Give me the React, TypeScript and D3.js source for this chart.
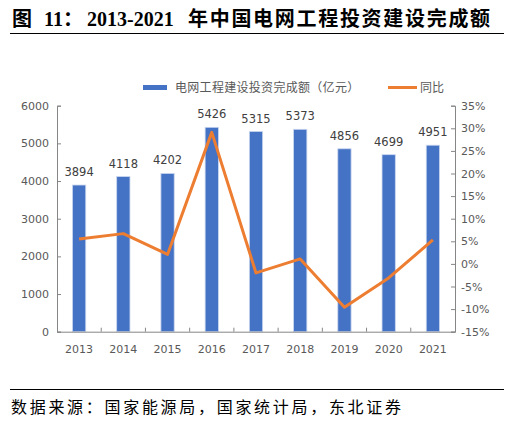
import React, { useEffect, useRef } from 'react';
import * as d3 from 'd3';

const years = ['2013', '2014', '2015', '2016', '2017', '2018', '2019', '2020', '2021'];
const investment = [3894, 4118, 4202, 5426, 5315, 5373, 4856, 4699, 4951];
const yoy = [5.5, 6.7, 2.1, 29.1, -2.0, 1.1, -9.6, -3.1, 5.3];
const leftTicks = [0, 1000, 2000, 3000, 4000, 5000, 6000];
const rightTicks = [-15, -10, -5, 0, 5, 10, 15, 20, 25, 30, 35];

const CJK = '"Liberation Serif", "Noto Sans CJK SC", serif';
const SANS = '"DejaVu Sans", "Noto Sans CJK SC", sans-serif';

const App: React.FC = () => {
  const svgRef = useRef<SVGSVGElement>(null);

  useEffect(() => {
    if (!svgRef.current) return;
    const svg = d3.select(svgRef.current);
    svg.selectAll('*').remove();

    const left = 57;
    const right = 455;
    const top = 105.7;
    const bottom = 331.7;
    const axisColor = '#868686';
    const labelColor = '#595959';

    const x = d3.scaleBand<string>().domain(years).range([left, right]).paddingInner(0.7).paddingOuter(0.35);
    const xCat = d3.scaleBand<string>().domain(years).range([left, right]);
    const yL = d3.scaleLinear().domain([0, 6000]).range([bottom, top]);
    const yR = d3.scaleLinear().domain([-15, 35]).range([bottom, top]);

    // title
    const title = svg
      .append('text')
      .attr('y', 26)
      .attr('font-family', CJK)
      .attr('font-weight', 'bold')
      .attr('font-size', 20)
      .attr('fill', '#000');
    title.append('tspan').attr('x', 12).text('图');
    title.append('tspan').attr('x', 44).text('11：');
    title.append('tspan').attr('x', 87).text('2013-2021');
    title.append('tspan').attr('x', 188).attr('letter-spacing', 1.7).text('年中国电网工程投资建设完成额');
    svg.append('line').attr('x1', 10).attr('x2', 504).attr('y1', 33.5).attr('y2', 33.5).attr('stroke', '#000').attr('stroke-width', 1);

    // legend
    svg.append('rect').attr('x', 143).attr('y', 85).attr('width', 24).attr('height', 5).attr('fill', '#4472C4');
    svg
      .append('text')
      .attr('x', 175)
      .attr('y', 91.5)
      .attr('font-family', SANS)
      .attr('font-size', 12)
      .attr('letter-spacing', 0.3)
      .attr('fill', labelColor)
      .text('电网工程建设投资完成额（亿元）');
    svg.append('line').attr('x1', 388).attr('x2', 417).attr('y1', 87.5).attr('y2', 87.5).attr('stroke', '#ED7D31').attr('stroke-width', 3);
    svg
      .append('text')
      .attr('x', 420)
      .attr('y', 91.5)
      .attr('font-family', SANS)
      .attr('font-size', 12)
      .attr('fill', labelColor)
      .text('同比');

    // bars
    svg
      .append('g')
      .selectAll('rect')
      .data(investment)
      .enter()
      .append('rect')
      .attr('x', (_d, i) => x(years[i])!)
      .attr('width', x.bandwidth())
      .attr('y', (d) => yL(d))
      .attr('height', (d) => bottom - yL(d))
      .attr('fill', '#4472C4')
      .attr('stroke', '#c9d6ef')
      .attr('stroke-width', 0.8);

    // bar labels
    svg
      .append('g')
      .selectAll('text')
      .data(investment)
      .enter()
      .append('text')
      .attr('x', (_d, i) => x(years[i])! + x.bandwidth() / 2)
      .attr('y', (d) => yL(d) - 9)
      .attr('text-anchor', 'middle')
      .attr('font-family', SANS)
      .attr('font-size', 11.5)
      .attr('fill', '#404040')
      .text((d) => d);

    // axes
    const gL = svg
      .append('g')
      .attr('transform', `translate(${left},0)`)
      .call(d3.axisRight(yL).tickValues(leftTicks).tickSize(4).tickFormat(() => ''));
    gL.selectAll('line, path').attr('stroke', axisColor);
    svg
      .append('g')
      .selectAll('text')
      .data(leftTicks)
      .enter()
      .append('text')
      .attr('x', left - 8)
      .attr('y', (d) => yL(d) + 4)
      .attr('text-anchor', 'end')
      .attr('font-family', SANS)
      .attr('font-size', 11)
      .attr('fill', labelColor)
      .text((d) => d);

    const gR = svg
      .append('g')
      .attr('transform', `translate(${right},0)`)
      .call(d3.axisLeft(yR).tickValues(rightTicks).tickSize(4).tickFormat(() => ''));
    gR.selectAll('line, path').attr('stroke', axisColor);
    svg
      .append('g')
      .selectAll('text')
      .data(rightTicks)
      .enter()
      .append('text')
      .attr('x', right + 6)
      .attr('y', (d) => yR(d) + 4)
      .attr('font-family', SANS)
      .attr('font-size', 11)
      .attr('fill', labelColor)
      .text((d) => `${d}%`);

    const gX = svg
      .append('g')
      .attr('transform', `translate(0,${bottom})`)
      .call(d3.axisTop(xCat).tickSize(0).tickFormat(() => ''));
    gX.select('path').attr('stroke', axisColor);
    gX.selectAll('.tick').remove();
    svg
      .append('g')
      .selectAll('line')
      .data(years.slice(1))
      .enter()
      .append('line')
      .attr('x1', (d) => xCat(d)!)
      .attr('x2', (d) => xCat(d)!)
      .attr('y1', bottom)
      .attr('y2', bottom - 4)
      .attr('stroke', axisColor);
    svg
      .append('g')
      .selectAll('text')
      .data(years)
      .enter()
      .append('text')
      .attr('x', (d) => xCat(d)! + xCat.bandwidth() / 2)
      .attr('y', bottom + 21)
      .attr('text-anchor', 'middle')
      .attr('font-family', SANS)
      .attr('font-size', 11)
      .attr('fill', labelColor)
      .text((d) => d);

    // line
    const line = d3
      .line<number>()
      .x((_d, i) => xCat(years[i])! + xCat.bandwidth() / 2)
      .y((d) => yR(d));
    svg
      .append('path')
      .datum(yoy)
      .attr('d', line)
      .attr('fill', 'none')
      .attr('stroke', '#ED7D31')
      .attr('stroke-width', 3)
      .attr('stroke-linejoin', 'round');

    // source
    svg.append('line').attr('x1', 10).attr('x2', 504).attr('y1', 389.5).attr('y2', 389.5).attr('stroke', '#000').attr('stroke-width', 1);
    svg
      .append('text')
      .attr('x', 11)
      .attr('y', 413)
      .attr('font-family', CJK)
      .attr('font-size', 16)
      .attr('letter-spacing', 2.7)
      .attr('fill', '#000')
      .text('数据来源：国家能源局，国家统计局，东北证券');
  }, []);

  return (
    <div style={{ position: 'absolute', left: 0, top: 0 }}>
      <svg ref={svgRef} width={517} height={427} style={{ display: 'block', background: '#fff' }}></svg>
    </div>
  );
};

export default App;
